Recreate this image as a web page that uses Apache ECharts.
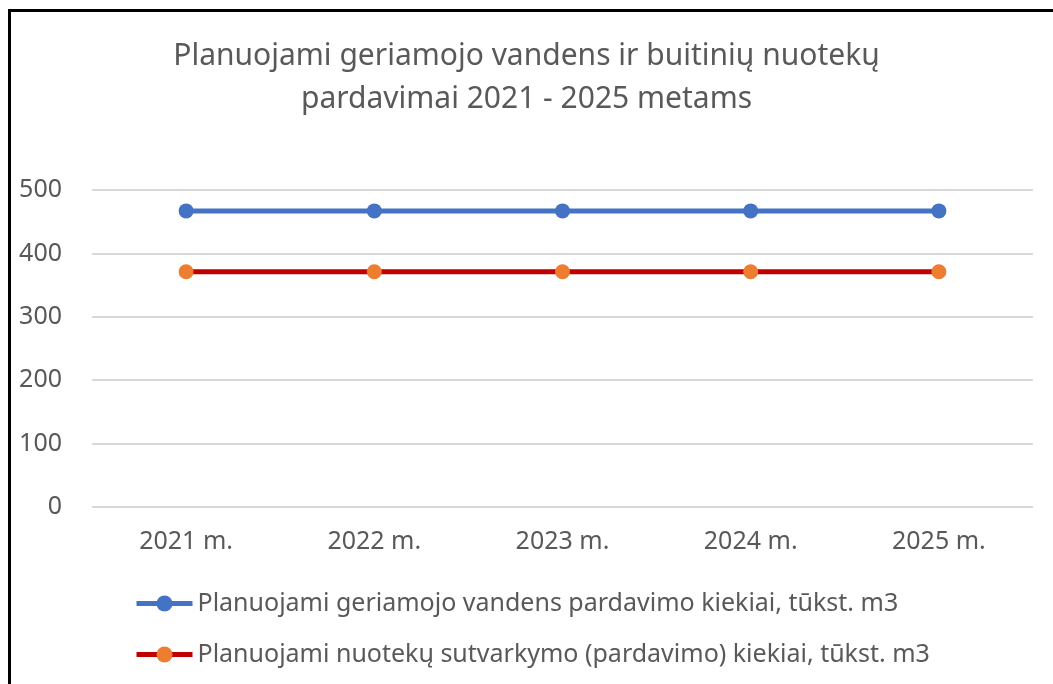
<!DOCTYPE html>
<html>
<head>
<meta charset="utf-8">
<script src="https://cdn.jsdelivr.net/npm/echarts@6/dist/echarts.min.js"></script>
<style>
  html, body { margin: 0; padding: 0; background: #fff; }
  #chart { width: 1053px; height: 684px; }
  #frame { position: absolute; left: 8px; top: 9px; width: 1100px; height: 720px; border: 3px solid #000; pointer-events: none; }
</style>
</head>
<body>
<div id="chart"></div>
<div id="frame"></div>
<script>
  const years = ['2021 m.', '2022 m.', '2023 m.', '2024 m.', '2025 m.']
  const waterSales = [467, 467, 467, 467, 467]
  const sewageSales = [371, 371, 371, 371, 371]
  const waterName = 'Planuojami geriamojo vandens pardavimo kiekiai, tūkst. m3'
  const sewageName = 'Planuojami nuotekų sutvarkymo (pardavimo) kiekiai, tūkst. m3'

  const font = 'Noto Sans'
  let myChart = echarts.init(document.getElementById('chart'))
  myChart.setOption({
    animation: false,
    title: {
      text: 'Planuojami geriamojo vandens ir buitinių nuotekų\npardavimai 2021 - 2025 metams',
      left: 'center',
      top: 30,
      textStyle: {
        fontFamily: font,
        fontSize: 30,
        fontWeight: 'normal',
        color: '#595959',
        lineHeight: 43
      }
    },
    grid: {left: 92, right: 20, top: 190, bottom: 177},
    xAxis: {
      type: 'category',
      data: years,
      boundaryGap: true,
      axisLine: {show: false},
      axisTick: {show: false},
      axisLabel: {fontFamily: font, fontSize: 25, color: '#595959', margin: 22}
    },
    yAxis: {
      type: 'value',
      min: 0,
      max: 500,
      interval: 100,
      axisLine: {show: false},
      axisTick: {show: false},
      axisLabel: {fontFamily: font, fontSize: 25, color: '#595959', margin: 30},
      splitLine: {lineStyle: {color: '#d9d9d9', width: 2}}
    },
    legend: {
      orient: 'vertical',
      left: 129,
      top: 586,
      itemWidth: 56,
      itemHeight: 20,
      itemGap: 26,
      lineStyle: {width: 5},
      textStyle: {fontFamily: font, fontSize: 25, color: '#595959'},
      data: [waterName, sewageName]
    },
    series: [{
      name: waterName,
      type: 'line',
      data: waterSales,
      symbol: 'circle',
      symbolSize: 15,
      lineStyle: {color: '#4472C4', width: 5},
      itemStyle: {color: '#4472C4'}
    }, {
      name: sewageName,
      type: 'line',
      data: sewageSales,
      symbol: 'circle',
      symbolSize: 15,
      lineStyle: {color: '#C00000', width: 5},
      itemStyle: {color: '#ED7D31'}
    }]
  })
</script>
</body>
</html>
